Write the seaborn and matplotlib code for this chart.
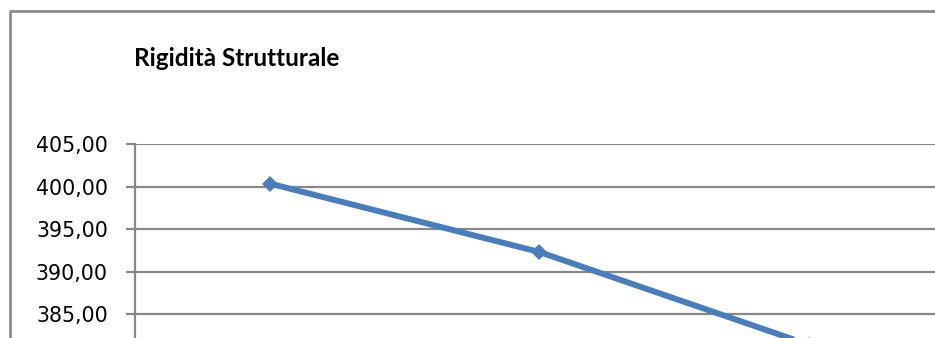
import matplotlib
matplotlib.use("Agg")
import matplotlib.pyplot as plt
from matplotlib.lines import Line2D
from matplotlib.ticker import FuncFormatter
import seaborn as sns
import pandas as pd

# Structural stiffness per configuration
configs = [1, 2, 3]
stiffness = [400.35, 392.30, 381.40]
y_ticks = [385, 390, 395, 400, 405]

W, H = 935, 338
sns.set_theme(style="white")
plt.rcParams["font.family"] = ["DejaVu Sans"]

fig = plt.figure(figsize=(W / 100, H / 100), dpi=100)
fig.patch.set_facecolor("white")

# plot area: left edge at x=135 px, top at y=144 px, runs off the right/bottom
ax = fig.add_axes([135 / W, 0, (W - 135) / W, (H - 144) / H])

df = pd.DataFrame({"config": range(len(configs)), "stiffness": stiffness})
sns.lineplot(data=df, x="config", y="stiffness", ax=ax, color="#4A7EBB",
             linewidth=4.3, marker="D", markersize=8, markeredgewidth=0,
             clip_on=True, zorder=3)

ax.set_xlim(-0.5, (W - 269) / 270)
ax.set_ylim(382.2, 405)
ax.set_yticks(y_ticks)
ax.yaxis.set_major_formatter(FuncFormatter(lambda v, p: f"{v:.2f}".replace(".", ",")))
ax.set_xticks([])
ax.set_xlabel("")
ax.set_ylabel("")

grid_c = "#878787"
ax.grid(axis="y", color=grid_c, linewidth=1.6)
ax.set_axisbelow(True)
for s in ["top", "right", "bottom"]:
    ax.spines[s].set_visible(False)
ax.spines["left"].set_color(grid_c)
ax.spines["left"].set_linewidth(1.6)
ax.tick_params(axis="y", which="major", length=6.5, width=1.6, color=grid_c,
               pad=13, labelsize=14.8, labelcolor="black", left=True)

# chart frame (top and left edges)
frame_c = "#8C8C8C"
fig.add_artist(Line2D([9.5 / W, 1], [1 - 11 / H, 1 - 11 / H], transform=fig.transFigure,
                      color=frame_c, linewidth=2, solid_capstyle="butt"))
fig.add_artist(Line2D([10 / W, 10 / W], [0, 1 - 10 / H], transform=fig.transFigure,
                      color=frame_c, linewidth=2, solid_capstyle="butt"))

fig.text(134 / W, 1 - 66.5 / H, "Rigidità Strutturale", fontsize=17.5, fontweight="bold",
         family=["Lato", "DejaVu Sans"], color="black", ha="left", va="baseline")

fig.savefig("out.png", dpi=100, facecolor="white")
